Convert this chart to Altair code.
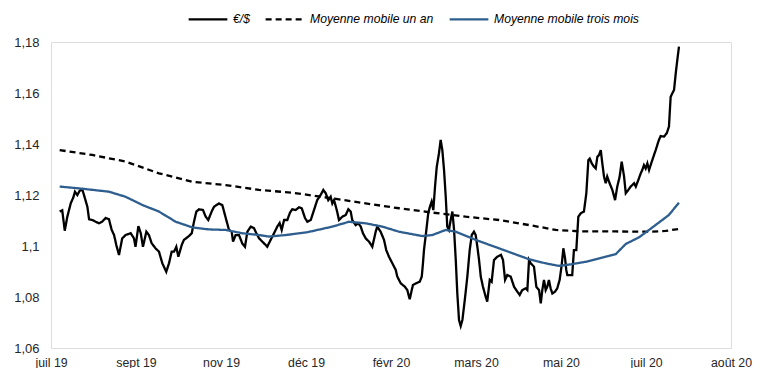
import altair as alt
import pandas as pd

START = "2019-07-25"
SERIES = ["€/$", "Moyenne mobile un an", "Moyenne mobile trois mois"]

# days after START, EUR/USD
black_days = [5.1, 6.6, 8.1, 9.6, 11.6, 13.1, 14.1, 15.5, 16.9, 18.4, 19.4, 21.4, 22.4, 24.3, 26.3,
              28.2, 30.0, 32.2, 34.1, 35.7, 37.1, 38.4, 40.0, 41.9, 43.9, 46.9, 48.8, 49.7, 51.4, 52.8,
              54.1, 56.1, 57.6, 59.2, 61.6, 63.5, 65.5, 67.8, 69.4, 71.0, 72.4, 73.7, 74.9, 76.9, 78.2,
              80.8, 82.8, 84.1, 85.5, 87.1, 89.4, 91.0, 92.5, 94.5, 95.9, 98.8, 100.8, 102.8, 104.7, 106.3,
              107.1, 108.6, 110.6, 112.5, 114.1, 115.5, 117.5, 119.4, 120.8, 122.4, 124.3, 126.3, 127.2, 129.2, 131.2,
              133.1, 134.5, 135.7, 137.1, 139.0, 140.6, 141.9, 143.9, 145.9, 147.5, 149.4, 150.8, 152.8, 154.7, 156.6,
              158.6, 160.2, 161.6, 163.1, 164.5, 165.5, 166.5, 168.1, 169.4, 171.4, 173.4, 174.9, 176.3, 177.2, 179.2,
              180.8, 182.2, 183.5, 185.1, 187.1, 189.0, 191.0, 191.9, 193.9, 195.9, 197.2, 198.8, 200.8, 202.8, 203.7,
              205.7, 208.2, 209.6, 211.0, 212.2, 212.9, 214.9, 216.9, 218.1, 218.8, 219.4, 220.8, 221.9, 222.9, 223.9,
              224.9, 225.9, 226.9, 228.2, 229.2, 230.2, 231.2, 232.2, 233.1, 234.1, 235.1, 236.1, 237.1, 238.1, 239.0,
              240.0, 241.0, 242.0, 243.4, 244.9, 246.3, 247.5, 248.8, 249.8, 250.8, 251.8, 252.8, 254.1, 255.7, 256.6,
              258.1, 259.2, 260.6, 262.5, 264.7, 265.9, 267.1, 268.4, 270.4, 272.4, 274.3, 275.7, 277.2, 279.2, 280.2,
              281.2, 282.2, 284.1, 285.5, 287.1, 288.1, 289.0, 290.0, 291.0, 291.9, 292.9, 293.9, 294.9, 296.5, 297.8,
              299.2, 300.4, 301.4, 302.4, 303.1, 303.7, 305.1, 306.6, 307.6, 309.0, 310.2, 311.6, 313.5, 314.9, 316.1,
              316.9, 318.1, 319.4, 320.4, 321.4, 322.4, 323.4, 324.3, 325.3, 326.3, 327.2, 328.6, 330.2, 331.8, 333.1,
              334.5, 335.7, 337.1, 338.1, 339.6, 341.0, 343.0, 344.0, 345.5, 346.9, 347.8, 348.8, 349.8, 350.8, 351.8,
              353.7, 355.7, 357.6, 358.6, 360.6, 362.2, 363.5, 364.5, 365.5, 366.5, 367.5, 368.4, 369.4]
black_vals = [1.1135, 1.1140, 1.1060, 1.1115, 1.1167, 1.1190, 1.1213, 1.1200, 1.1217, 1.1222, 1.1200, 1.1154, 1.1105, 1.1102, 1.1095,
              1.1089, 1.1095, 1.1110, 1.1105, 1.1063, 1.1043, 1.1004, 1.0965, 1.1030, 1.1043, 1.1050, 1.1030, 1.0997, 1.1078, 1.1050,
              1.0997, 1.1056, 1.1043, 1.1011, 1.0990, 1.0978, 1.0932, 1.0899, 1.0932, 1.0978, 1.0978, 1.0997, 1.0958, 1.1004, 1.1024,
              1.1037, 1.1050, 1.1095, 1.1135, 1.1144, 1.1141, 1.1115, 1.1102, 1.1135, 1.1154, 1.1167, 1.1160, 1.1110, 1.1063, 1.1056,
              1.1017, 1.1043, 1.1043, 1.1010, 1.0997, 1.1056, 1.1076, 1.1070, 1.1050, 1.1030, 1.1017, 1.1004, 1.0997, 1.1024, 1.1050,
              1.1076, 1.1090, 1.1063, 1.1102, 1.1102, 1.1131, 1.1144, 1.1141, 1.1152, 1.1148, 1.1110, 1.1095, 1.1102, 1.1141, 1.1180,
              1.1200, 1.1220, 1.1207, 1.1180, 1.1193, 1.1167, 1.1180, 1.1141, 1.1102, 1.1115, 1.1122, 1.1144, 1.1135, 1.1102, 1.1082,
              1.1089, 1.1076, 1.1050, 1.1030, 1.1017, 1.0997, 1.1056, 1.1076, 1.1056, 1.1024, 1.0984, 1.0958, 1.0932, 1.0906, 1.0880,
              1.0854, 1.0840, 1.0827, 1.0791, 1.0827, 1.0847, 1.0854, 1.0860, 1.0880, 1.0932, 1.0984, 1.1063, 1.1128, 1.1154, 1.1174,
              1.1141, 1.1233, 1.1310, 1.1363, 1.1416, 1.1376, 1.1298, 1.1193, 1.1076, 1.1063, 1.1102, 1.1135, 1.1063, 1.0945, 1.0815,
              1.0710, 1.0686, 1.0710, 1.0788, 1.0880, 1.0984, 1.1043, 1.1056, 1.1043, 1.0997, 1.0945, 1.0880, 1.0840, 1.0801, 1.0782,
              1.0867, 1.0860, 1.0945, 1.0958, 1.0965, 1.0945, 1.0867, 1.0886, 1.0880, 1.0840, 1.0821, 1.0808, 1.0827, 1.0834, 1.0827,
              1.0945, 1.0932, 1.0919, 1.0840, 1.0827, 1.0775, 1.0827, 1.0867, 1.0827, 1.0840, 1.0867, 1.0834, 1.0814, 1.0821, 1.0834,
              1.0867, 1.0925, 1.0991, 1.0951, 1.0906, 1.0886, 1.0886, 1.0886, 1.0984, 1.0984, 1.1115, 1.1128, 1.1135, 1.1207, 1.1337,
              1.1343, 1.1324, 1.1311, 1.1304, 1.1350, 1.1357, 1.1376, 1.1324, 1.1272, 1.1246, 1.1272, 1.1246, 1.1220, 1.1180, 1.1233,
              1.1272, 1.1331, 1.1272, 1.1207, 1.1220, 1.1233, 1.1246, 1.1233, 1.1259, 1.1285, 1.1298, 1.1317, 1.1304, 1.1324, 1.1298,
              1.1337, 1.1376, 1.1416, 1.1431, 1.1429, 1.1442, 1.1468, 1.1585, 1.1599, 1.1612, 1.1677, 1.1729, 1.1782]

year_days = [5.1, 24.3, 43.9, 63.5, 83.1, 102.8, 122.4, 141.9, 165.5, 185.1, 204.7, 224.3, 243.9, 263.5,
             283.1, 296.9, 312.5, 332.2, 351.8, 361.6, 369.4]
year_vals = [1.1376, 1.1357, 1.1331, 1.1285, 1.1252, 1.1239, 1.1220, 1.1209, 1.1187, 1.1167, 1.1148, 1.1131, 1.1115, 1.1102,
             1.1080, 1.1063, 1.1057, 1.1057, 1.1056, 1.1059, 1.1067]

q_days = [5.1, 16.5, 34.1, 43.9, 53.7, 63.5, 73.4, 83.1, 92.9, 102.8, 112.5, 122.4, 128.2, 138.1, 150.8, 165.5,
          175.3, 185.1, 194.9, 204.7, 218.4, 224.3, 232.2, 238.1, 249.8, 263.5, 281.2, 291.0, 298.8, 304.7,
          314.5, 326.3, 332.2, 338.1, 345.9, 351.8, 359.6, 363.5, 369.4]
q_vals = [1.1233, 1.1226, 1.1213, 1.1193, 1.1161, 1.1135, 1.1095, 1.1073, 1.1065, 1.1063, 1.1050, 1.1043, 1.1037, 1.1043,
          1.1054, 1.1076, 1.1095, 1.1089, 1.1076, 1.1056, 1.1039, 1.1043, 1.1063, 1.1056, 1.1024, 1.0991, 1.0948, 1.0932,
          1.0922, 1.0927, 1.0938, 1.0958, 1.0968, 1.1008, 1.1034, 1.1063, 1.1102, 1.1122, 1.1170]

y_ticks = [1.06, 1.08, 1.10, 1.12, 1.14, 1.16, 1.18]
MONTHS_FR = ["janv", "févr", "mars", "avr", "mai", "juin", "juil", "août", "sept", "oct", "nov", "déc"]

start = pd.Timestamp(START)
frames = []
for name, days, vals, order in [(SERIES[0], black_days, black_vals, 0),
                                (SERIES[1], year_days, year_vals, 1),
                                (SERIES[2], q_days, q_vals, 2)]:
    frames.append(pd.DataFrame({
        "date": [start + pd.Timedelta(days=d) for d in days],
        "value": vals,
        "series": name,
        "order": order,
    }))
df = pd.concat(frames, ignore_index=True)

tick_dates = pd.date_range(START, periods=9, freq="50D")
x_values = [alt.DateTime(year=t.year, month=t.month, date=t.day) for t in tick_dates]
x_domain = [x_values[0], x_values[-1]]

month_arr = "[" + ",".join("'" + m + "'" for m in MONTHS_FR) + "]"
x_label_expr = month_arr + "[month(datum.value)] + ' ' + timeFormat(datum.value, '%y')"

legend = alt.Legend(
    title=None, orient="none", legendX=136, legendY=-44, direction="horizontal",
    symbolType="stroke", symbolSize=1500, symbolStrokeWidth=2.3,
    labelFont="Liberation Sans", labelFontSize=12.2, labelFontStyle="italic",
    labelColor="#000000", labelOffset=4, columnPadding=11, padding=0,
)

chart = alt.Chart(df).mark_line(strokeWidth=2.3).encode(
    x=alt.X("date:T",
            scale=alt.Scale(domain=x_domain),
            axis=alt.Axis(title=None, values=x_values, labelExpr=x_label_expr,
                          grid=False, ticks=False, domain=False, labelPadding=8,
                          labelFont="Liberation Sans", labelFontSize=12.3, labelColor="#262626",
                          labelOverlap=False, labelFlush=False)),
    y=alt.Y("value:Q",
            scale=alt.Scale(domain=[1.06, 1.18], zero=False, nice=False),
            axis=alt.Axis(title=None, values=y_ticks,
                          labelExpr="replace(format(datum.value, '.2~f'), '.', ',')",
                          grid=False, ticks=False, domain=False, labelPadding=12,
                          labelFont="Liberation Sans", labelFontSize=13, labelColor="#262626")),
    color=alt.Color("series:N", scale=alt.Scale(domain=SERIES, range=["#000000", "#000000", "#2E5E8E"]),
                    legend=legend),
    strokeDash=alt.StrokeDash("series:N", scale=alt.Scale(domain=SERIES, range=[[1, 0], [6, 4], [1, 0]]),
                              legend=legend),
    order=alt.Order("order:Q"),
    detail="series:N",
).properties(
    width=680, height=306,
    autosize=alt.AutoSizeParams(type="none"),
    padding={"left": 43, "top": 34, "right": 21, "bottom": 20},
).configure_view(
    stroke="#5f5f5f", strokeWidth=1.6
).configure(background="#ffffff")

chart.save("out.html", embed_options={"renderer": "svg", "actions": False})
